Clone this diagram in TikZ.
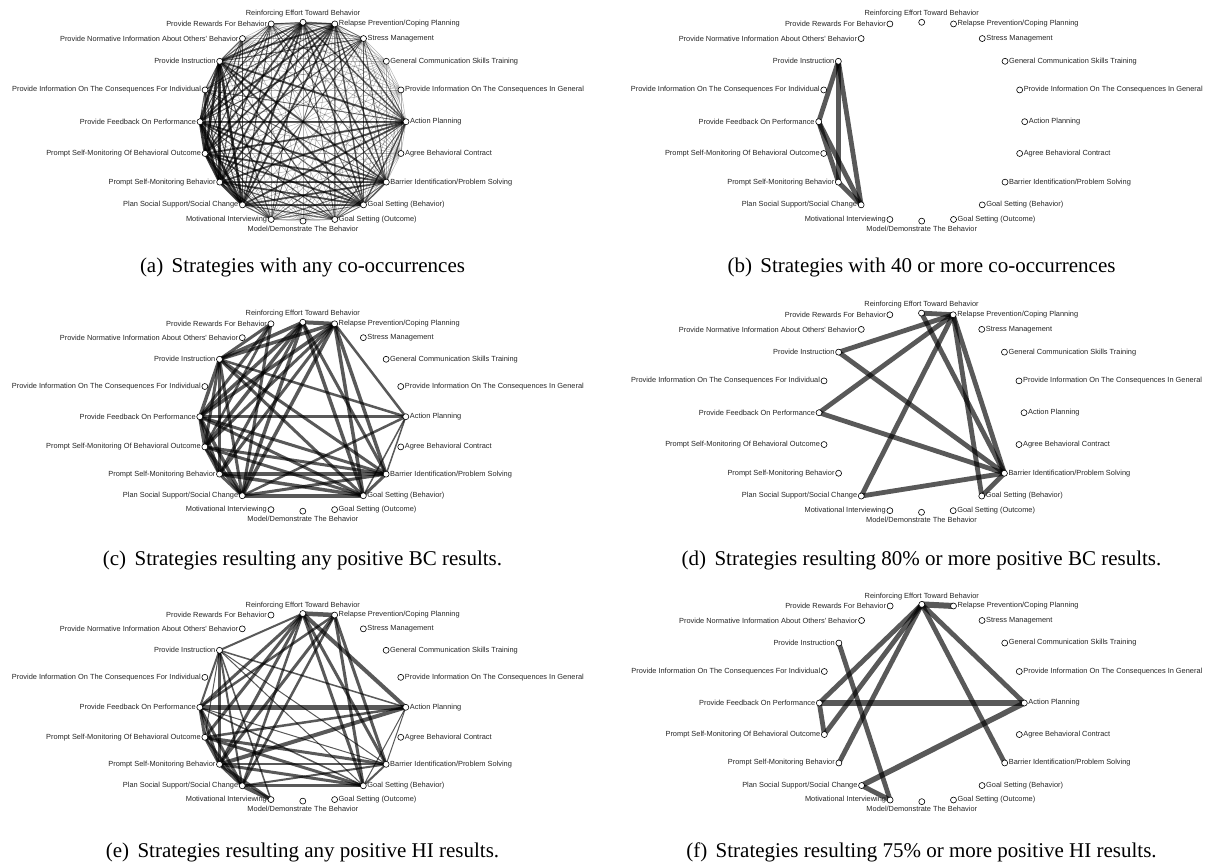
\documentclass[tikz,border=0pt]{standalone}
\usepackage{fontspec}
\setmainfont{Liberation Serif}
\newfontfamily\lblfont{Liberation Sans}
\pgfdeclarelayer{edges}
\pgfsetlayers{edges,main}
\newcommand\deflbl[2]{\expandafter\def\csname lbl#1\endcsname{#2}}
\deflbl{0}{Reinforcing Effort Toward Behavior}
\deflbl{1}{Relapse Prevention/Coping Planning}
\deflbl{2}{Stress Management}
\deflbl{3}{General Communication Skills Training}
\deflbl{4}{Provide Information On The Consequences In General}
\deflbl{5}{Action Planning}
\deflbl{6}{Agree Behavioral Contract}
\deflbl{7}{Barrier Identification/Problem Solving}
\deflbl{8}{Goal Setting (Behavior)}
\deflbl{9}{Goal Setting (Outcome)}
\deflbl{10}{Model/Demonstrate The Behavior}
\deflbl{11}{Motivational Interviewing}
\deflbl{12}{Plan Social Support/Social Change}
\deflbl{13}{Prompt Self-Monitoring Behavior}
\deflbl{14}{Prompt Self-Monitoring Of Behavioral Outcome}
\deflbl{15}{Provide Feedback On Performance}
\deflbl{16}{Provide Information On The Consequences For Individual}
\deflbl{17}{Provide Instruction}
\deflbl{18}{Provide Normative Information About Others' Behavior}
\deflbl{19}{Provide Rewards For Behavior}
\tikzset{
  nd/.style={circle,draw=black,fill=white,minimum size=6pt,inner sep=0pt,line width=0.6pt},
  lb/.style={font=\lblfont\fontsize{7.4}{8}\selectfont,inner sep=0.3pt,text=black!85},
  eg/.style={draw=black,draw opacity=0.65,line cap=butt},
  captxt/.style={font=\fontsize{21}{24}\selectfont,anchor=base,inner sep=0pt},
}
\newcommand\mkpanel[5]{%
  \foreach \k in {0,...,19}{%
    \pgfmathsetmacro\ang{\k*18}%
    \pgfmathsetmacro\fy{(\k==0||\k==10)?0.967:1}%
    \pgfmathsetmacro\px{#2+#4*sin(\ang)}%
    \pgfmathsetmacro\py{#3-#5*\fy*cos(\ang)}%
    \ifnum\k=0 \def\lanc{south}\def\lside{north}\def\dx{0pt}\def\dy{1pt}%
    \else\ifnum\k=10 \def\lanc{north}\def\lside{south}\def\dx{0pt}\def\dy{-1pt}%
    \else\ifnum\k<10 \def\lanc{west}\def\lside{east}\def\dx{0.3pt}\def\dy{0pt}%
    \else \def\lanc{east}\def\lside{west}\def\dx{-0.3pt}\def\dy{0pt}\fi\fi\fi
    \node[nd] (#1-\k) at (\px,\py) {};
    \node[lb,anchor=\lanc] (#1-\k-t) at ([xshift=\dx,yshift=\dy]#1-\k.\lside) {\csname lbl\k\endcsname};
  }%
}
\begin{document}
\begin{tikzpicture}[x=1pt,y=-1pt]
\useasboundingbox (0,0) rectangle (1214,863);
\begin{pgfonlayer}{edges}
\fill[white] (0,0) rectangle (1214,863);
\end{pgfonlayer}

\mkpanel{a}{303}{121.7}{103}{102.8}
\mkpanel{b}{921.7}{121.7}{103}{102.8}
\mkpanel{c}{302.8}{416.7}{103}{97.7}
\mkpanel{d}{921.5}{412.7}{102.5}{103}
\mkpanel{e}{302.8}{707.3}{103}{97}
\mkpanel{f}{921.8}{703}{102.5}{102}

\begin{pgfonlayer}{edges}
% ---------- (a) ----------
\foreach \u in {0,...,19}{\foreach \v in {0,...,19}{\ifnum\u<\v
  \draw[eg,draw opacity=0.3,line width=0.5pt] (a-\u.center) -- (a-\v.center);\fi}}
\foreach \u in {12,13,14,15,17}{\foreach \v in {12,13,14,15,17}{\ifnum\u<\v
  \draw[eg,draw opacity=0.75,line width=2.6pt] (a-\u.center) -- (a-\v.center);\fi}}
\foreach \u in {12,13,14,15,17}{\foreach \v in {0,1,5,7,8}{
  \draw[eg,draw opacity=0.62,line width=1.9pt] (a-\u.center) -- (a-\v.center);}}
\foreach \u in {0,1,5,7,8}{\foreach \v in {0,1,5,7,8}{\ifnum\u<\v
  \draw[eg,draw opacity=0.55,line width=1.5pt] (a-\u.center) -- (a-\v.center);\fi}}
\foreach \u in {12,13,14,15,17}{\foreach \v in {2,9,11,16,18,19}{
  \draw[eg,draw opacity=0.5,line width=1.1pt] (a-\u.center) -- (a-\v.center);}}
\foreach \u in {0,1,5,7,8}{\foreach \v in {2,9,11,16,19}{
  \draw[eg,draw opacity=0.45,line width=0.9pt] (a-\u.center) -- (a-\v.center);}}
% ---------- (b) ----------
\foreach \u/\v in {17/15,17/13,17/12,15/13,15/12,13/12}
  \draw[eg,line width=4.8pt] (b-\u.center) -- (b-\v.center);
% ---------- (c) ----------
\foreach \u/\v/\w in {0/1/4pt,0/17/3.5pt,0/15/3.5pt,0/14/3.5pt,0/13/3pt,0/12/3.5pt,0/8/3.5pt,0/7/3pt,
  1/17/3.5pt,1/15/3.5pt,1/14/3pt,1/13/3pt,1/12/3.5pt,1/8/3.5pt,1/7/3.5pt,
  17/15/3.5pt,17/14/3pt,17/13/3.5pt,17/12/3pt,17/8/3pt,17/7/3pt,
  15/14/3.5pt,15/13/3.5pt,15/12/3.5pt,15/8/3pt,15/7/3pt,
  14/13/3pt,14/12/3.5pt,14/8/3pt,14/7/3pt,
  13/12/3pt,13/8/3.5pt,13/7/3.5pt,
  12/8/3.5pt,12/7/3pt,8/7/3pt,
  5/15/3.5pt,5/17/2.5pt,5/1/2.5pt,5/12/2.5pt,5/7/1.5pt,5/8/1.5pt,
  19/17/3pt,19/15/3pt,19/12/3pt,19/14/2.5pt}
  \draw[eg,line width=\w] (c-\u.center) -- (c-\v.center);
% ---------- (d) ----------
\foreach \u/\v in {0/1,1/17,1/15,1/12,1/7,1/8,0/7,17/7,15/7,12/7,7/8}
  \draw[eg,line width=4.8pt] (d-\u.center) -- (d-\v.center);
% ---------- (e) ----------
\foreach \u/\v/\w in {0/1/4.5pt,0/17/2pt,0/15/3pt,0/14/3pt,0/13/3pt,0/12/2.5pt,0/5/4pt,0/7/3pt,0/8/3pt,
  1/15/2.5pt,1/13/3pt,1/12/2.5pt,1/7/3pt,1/8/3pt,
  17/15/2pt,17/14/1pt,17/13/3pt,17/12/2pt,17/11/1.5pt,17/5/1.5pt,17/7/1pt,17/8/1pt,
  15/5/5.5pt,15/14/3pt,15/13/3pt,15/12/3pt,15/8/1.5pt,15/7/1pt,
  14/5/2.5pt,13/5/4pt,14/13/3pt,14/12/2.5pt,14/8/3pt,14/7/3pt,
  13/12/3pt,13/7/2pt,13/8/3pt,12/8/3pt,12/7/2pt,12/11/4pt,13/11/3pt,
  8/7/2pt,8/5/1pt,7/5/1pt}
  \draw[eg,line width=\w] (e-\u.center) -- (e-\v.center);
% ---------- (f) ----------
\foreach \u/\v/\w in {0/1/6pt,0/15/4.8pt,0/14/4.8pt,0/13/4.8pt,0/5/4.8pt,0/7/4.8pt,
  15/5/6pt,15/14/4.8pt,17/11/4.8pt,12/5/5.5pt,12/11/4.8pt}
  \draw[eg,line width=\w] (f-\u.center) -- (f-\v.center);
\end{pgfonlayer}

\node[captxt] (capa) at (302.5,272.7) {(a)\hspace{0.4em}Strategies with any co-occurrences};
\node[captxt] (capb) at (921.5,272.7) {(b)\hspace{0.4em}Strategies with 40 or more co-occurrences};
\node[captxt] (capc) at (302.5,565) {(c)\hspace{0.4em}Strategies resulting any positive BC results.};
\node[captxt] (capd) at (921.5,565) {(d)\hspace{0.4em}Strategies resulting 80\% or more positive BC results.};
\node[captxt] (cape) at (302.5,857) {(e)\hspace{0.4em}Strategies resulting any positive HI results.};
\node[captxt] (capf) at (921.5,857) {(f)\hspace{0.4em}Strategies resulting 75\% or more positive HI results.};
\end{tikzpicture}
\end{document}
